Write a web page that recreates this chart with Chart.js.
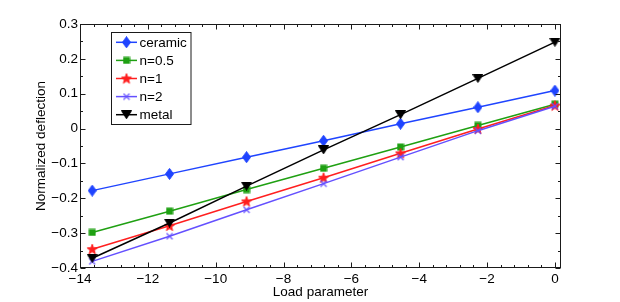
<!DOCTYPE html>
<html><head><meta charset="utf-8">
<script src="https://cdn.jsdelivr.net/npm/chart.js@4"></script>
<style>html,body{margin:0;padding:0;background:#fff}canvas{display:block}</style>
</head><body>
<canvas id="c" width="620" height="302"></canvas>
<script>
// ---- data ----
const loadParam = [-13.64, -11.36, -9.09, -6.82, -4.55, -2.27, 0];
const ceramic = [-0.178, -0.130, -0.082, -0.035, 0.014, 0.061, 0.109];
const n05     = [-0.298, -0.237, -0.175, -0.114, -0.053, 0.009, 0.070];
const n1      = [-0.346, -0.279, -0.209, -0.141, -0.071, -0.001, 0.066];
const n2      = [-0.381, -0.309, -0.233, -0.158, -0.082, -0.006, 0.064];
const metal   = [-0.372, -0.271, -0.165, -0.061, 0.040, 0.144, 0.248];
const seriesNames = ['ceramic', 'n=0.5', 'n=1', 'n=2', 'metal'];
const xTicks = [-14, -12, -10, -8, -6, -4, -2, 0];
const yTicks = [-0.4, -0.3, -0.2, -0.1, 0, 0.1, 0.2, 0.3];
const xTitle = 'Load parameter';
const yTitle = 'Normalized deflection';

// ---- marker images ----
function mk(w, h, fn) {
  const c = document.createElement('canvas');
  c.width = w; c.height = h;
  const g = c.getContext('2d');
  fn(g);
  return c;
}
const COL = ['#1f44ff', '#1fa012', '#ff1f1f', '#6450ff', '#000000'];
const diamond = mk(9, 12, g => {
  g.fillStyle = COL[0]; g.strokeStyle = COL[0]; g.lineWidth = 1;
  g.beginPath(); g.moveTo(4.5, 0.5); g.lineTo(8.5, 6); g.lineTo(4.5, 11.5); g.lineTo(0.5, 6); g.closePath();
  g.fill(); g.stroke();
});
const square = mk(8, 8, g => {
  g.fillStyle = COL[1]; g.strokeStyle = COL[1]; g.lineWidth = 1;
  g.fillRect(1, 1, 6, 6); g.strokeRect(1, 1, 6, 6);
});
const star = mk(12, 12, g => {
  g.fillStyle = COL[2]; g.strokeStyle = COL[2]; g.lineWidth = 1;
  g.beginPath();
  for (let i = 0; i < 10; i++) {
    const r = i % 2 === 0 ? 5.3 : 2.2;
    const a = -Math.PI / 2 + i * Math.PI / 5;
    const px = 6 + r * Math.cos(a), py = 6.4 + r * Math.sin(a);
    if (i === 0) g.moveTo(px, py); else g.lineTo(px, py);
  }
  g.closePath(); g.fill(); g.stroke();
});
const cross = mk(8, 8, g => {
  g.strokeStyle = COL[3]; g.lineWidth = 1.2;
  g.beginPath(); g.moveTo(1, 1); g.lineTo(7, 7); g.moveTo(7, 1); g.lineTo(1, 7); g.stroke();
});
const tri = mk(11, 9, g => {
  g.fillStyle = COL[4]; g.strokeStyle = COL[4]; g.lineWidth = 1;
  g.beginPath(); g.moveTo(0.5, 0.5); g.lineTo(10.5, 0.5); g.lineTo(5.5, 8.5); g.closePath();
  g.fill(); g.stroke();
});
const MARK = [diamond, square, star, cross, tri];

const FONT = "'Liberation Sans', Arial, Helvetica, sans-serif";
const FS = 13.5;
const fmt = v => (v < 0 ? '\u2212' : '') + String(Math.abs(v));

const allSeries = [ceramic, n05, n1, n2, metal];
const datasets = allSeries.map((s, i) => ({
  label: seriesNames[i],
  data: loadParam.map((x, k) => ({x: x, y: s[k]})),
  borderColor: COL[i],
  backgroundColor: COL[i],
  borderWidth: 1.5,
  pointStyle: MARK[i],
  pointRadius: 5,
  tension: 0,
  order: 5 - i,
  clip: false
}));

// ---- frame + MATLAB-style inward ticks ----
const framePlugin = {
  id: 'frame',
  afterDatasetsDraw(chart) {
    const {ctx, chartArea: a, scales: {x, y}} = chart;
    ctx.save();
    ctx.strokeStyle = '#1a1a1a';
    ctx.lineWidth = 1;
    const L = Math.round(a.left) + 0.5, R = Math.round(a.right) - 0.5;
    const T = Math.round(a.top) + 0.5, B = Math.round(a.bottom) - 0.5;
    ctx.strokeRect(L, T, R - L, B - T);
    ctx.beginPath();
    x.ticks.forEach(t => {
      const p = Math.round(x.getPixelForValue(t.value)) + 0.5;
      ctx.moveTo(p, B); ctx.lineTo(p, B - 5);
      ctx.moveTo(p, T); ctx.lineTo(p, T + 5);
    });
    for (let k = 0; k <= 36; k++) {
      const v = xTicks[0] + k * 0.4;
      if (v > x.max) break;
      if (k % 5 === 0) continue;
      const p = Math.round(x.getPixelForValue(v)) + 0.5;
      ctx.moveTo(p, B); ctx.lineTo(p, B - 2.5);
      ctx.moveTo(p, T); ctx.lineTo(p, T + 2.5);
    }
    y.ticks.forEach(t => {
      const p = Math.round(y.getPixelForValue(t.value)) + 0.5;
      ctx.moveTo(L, p); ctx.lineTo(L + 5, p);
      ctx.moveTo(R, p); ctx.lineTo(R - 5, p);
    });
    for (let k = 0; k < yTicks.length - 1; k++) {
      const v = (yTicks[k] + yTicks[k + 1]) / 2;
      const p = Math.round(y.getPixelForValue(v)) + 0.5;
      ctx.moveTo(L, p); ctx.lineTo(L + 2.5, p);
      ctx.moveTo(R, p); ctx.lineTo(R - 2.5, p);
    }
    ctx.stroke();
    ctx.restore();
  }
};

// ---- legend inside plot ----
const legendPlugin = {
  id: 'insideLegend',
  afterDatasetsDraw(chart) {
    const ctx = chart.ctx;
    const bx = 111.5, by = 32.5, bw = 79.5, bh = 92;
    ctx.save();
    ctx.fillStyle = '#fff';
    ctx.fillRect(bx, by, bw, bh);
    ctx.strokeStyle = '#1a1a1a';
    ctx.lineWidth = 1;
    ctx.strokeRect(bx, by, bw, bh);
    ctx.font = FS + 'px ' + FONT;
    ctx.textBaseline = 'middle';
    ctx.textAlign = 'left';
    chart.data.datasets.forEach((ds, i) => {
      const cy = 42.3 + i * 18.1;
      ctx.strokeStyle = ds.borderColor;
      ctx.lineWidth = 1.5;
      ctx.beginPath(); ctx.moveTo(116, cy); ctx.lineTo(137, cy); ctx.stroke();
      const img = ds.pointStyle;
      ctx.drawImage(img, 126.5 - img.width / 2, cy - img.height / 2);
      ctx.fillStyle = '#000';
      ctx.fillText(ds.label, 139.5, cy + 0.5);
    });
    ctx.restore();
  }
};

new Chart(document.getElementById('c'), {
  type: 'line',
  data: {datasets: datasets},
  options: {
    responsive: false,
    animation: false,
    devicePixelRatio: 1,
    layout: {padding: {top: 24, right: 59, bottom: 0, left: 0}},
    plugins: {legend: {display: false}, tooltip: {enabled: false}},
    scales: {
      x: {
        type: 'linear',
        min: -14, max: 0.18,
        afterBuildTicks: s => { s.ticks = xTicks.map(v => ({value: v})); },
        afterFit: s => { s.height = 34; },
        grid: {display: false, drawTicks: false},
        border: {display: false},
        ticks: {callback: v => fmt(v), color: '#000', padding: 3, maxRotation: 0, autoSkip: false,
                font: {family: FONT, size: FS}},
        title: {display: true, text: xTitle, color: '#000', padding: {top: 0, bottom: 2},
                font: {family: FONT, size: FS}}
      },
      y: {
        type: 'linear',
        min: -0.4, max: 0.3,
        afterBuildTicks: s => { s.ticks = yTicks.map(v => ({value: v})); },
        afterFit: s => { s.width = 80; },
        grid: {display: false, drawTicks: false},
        border: {display: false},
        ticks: {callback: v => fmt(Number(v.toFixed(2))), color: '#000', padding: 2, autoSkip: false,
                font: {family: FONT, size: FS}},
        title: {display: true, text: yTitle, color: '#000', padding: {top: 33, bottom: 0},
                font: {family: FONT, size: FS}}
      }
    }
  },
  plugins: [framePlugin, legendPlugin]
});
</script>
</body></html>
